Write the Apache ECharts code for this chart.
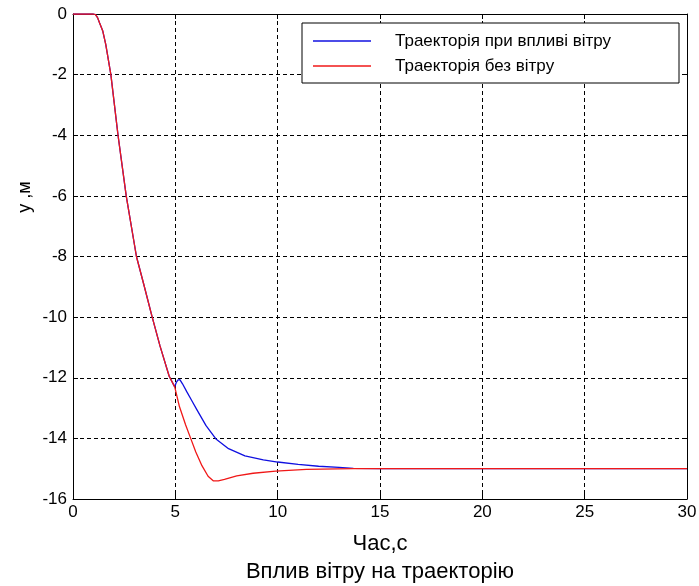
<!DOCTYPE html>
<html>
<head>
<meta charset="utf-8">
<script src="https://cdn.jsdelivr.net/npm/echarts@6/dist/echarts.min.js"></script>
<style>
  html, body { margin: 0; padding: 0; background: #fff; }
  #chart { width: 699px; height: 586px; }
</style>
</head>
<body>
<div id="chart"></div>
<script>
// спільна ділянка (обидві траєкторії збігаються)
var tCommon = [0, 0.5, 1.0, 1.1, 1.2, 1.3, 1.45, 1.6, 1.85, 2.2, 2.6, 3.1, 3.45, 3.85, 4.25, 4.7, 4.97];
var yCommon = [0, 0, 0, -0.02, -0.12, -0.3, -0.55, -1.0, -2.0, -4.0, -6.0, -8.0, -8.9, -9.95, -10.95, -11.95, -12.3];

// траєкторія при впливі вітру
var tWind = [5.05, 5.12, 5.22, 5.35, 5.55, 5.8, 6.05, 6.5, 7.0, 7.6, 8.4, 9.3, 10.0, 11.0, 12.0, 13.0, 13.7, 15, 20, 25, 30];
var yWind = [-12.15, -12.08, -12.06, -12.2, -12.45, -12.75, -13.05, -13.58, -14.03, -14.34, -14.58, -14.71, -14.78, -14.86, -14.92, -14.96, -14.99, -15, -15, -15, -15];

// траєкторія без вітру
var tNoWind = [5.2, 5.5, 5.75, 6.0, 6.3, 6.6, 6.85, 7.1, 7.4, 8.0, 8.8, 9.9, 11.4, 13.7, 15, 20, 25, 30];
var yNoWind = [-12.95, -13.55, -14.0, -14.45, -14.9, -15.25, -15.4, -15.4, -15.35, -15.24, -15.15, -15.08, -15.02, -15, -15, -15, -15, -15];

var seriesNames = ['Траекторія при впливі вітру', 'Траекторія без вітру'];

function pairs(ts, ys) {
    var out = [];
    for (var i = 0; i < ts.length; i++) out.push([ts[i], ys[i]]);
    return out;
}

var windData = pairs(tCommon, yCommon).concat(pairs(tWind, yWind));
var noWindData = pairs(tCommon, yCommon).concat(pairs(tNoWind, yNoWind));

var font = 'Liberation Sans, Arial, sans-serif';
var chart = echarts.init(document.getElementById('chart'));

var option = {
    backgroundColor: '#fff',
    animation: false,
    grid: { left: 73, right: 12, top: 14, bottom: 87, outerBoundsMode: 'none' },
    xAxis: [{
        type: 'value', min: 0, max: 30, interval: 5, position: 'bottom',
        name: 'Час,с', nameLocation: 'middle', nameGap: 34,
        nameTextStyle: { fontFamily: font, fontSize: 22, color: '#000' },
        axisLine: { show: true, onZero: false, lineStyle: { color: '#000', width: 1 } },
        axisTick: { show: true, inside: true, length: 5, lineStyle: { color: '#000' } },
        axisLabel: { fontFamily: font, fontSize: 17, color: '#000', margin: 5 },
        splitLine: { show: true, lineStyle: { color: '#000', type: [4, 3], width: 1 } }
    }, {
        type: 'value', min: 0, max: 30, interval: 5, position: 'top',
        axisLine: { show: true, onZero: false, lineStyle: { color: '#000', width: 1 } },
        axisTick: { show: true, inside: true, length: 5, lineStyle: { color: '#000' } },
        axisLabel: { show: false },
        splitLine: { show: false }
    }],
    yAxis: [{
        type: 'value', min: -16, max: 0, interval: 2, position: 'left',
        axisLine: { show: true, onZero: false, lineStyle: { color: '#000', width: 1 } },
        axisTick: { show: true, inside: true, length: 5, lineStyle: { color: '#000' } },
        axisLabel: { fontFamily: font, fontSize: 17, color: '#000', margin: 6 },
        splitLine: { show: true, lineStyle: { color: '#000', type: [4, 3], width: 1 } }
    }, {
        type: 'value', min: -16, max: 0, interval: 2, position: 'right',
        axisLine: { show: true, onZero: false, lineStyle: { color: '#000', width: 1 } },
        axisTick: { show: true, inside: true, length: 5, lineStyle: { color: '#000' } },
        axisLabel: { show: false },
        splitLine: { show: false }
    }],
    legend: {
        orient: 'vertical',
        left: 302, top: 23,
        data: [{ name: seriesNames[0], icon: 'rect' }, { name: seriesNames[1], icon: 'rect' }],
        backgroundColor: '#fff',
        borderColor: '#000', borderWidth: 1, borderRadius: 0,
        padding: [8, 14, 7, 11],
        itemWidth: 58, itemHeight: 1.5, itemGap: 5,
        textStyle: { fontFamily: font, fontSize: 17, color: '#000', width: 270, lineHeight: 20, padding: [0, 0, 0, 19] }
    },
    graphic: [{
        type: 'text', x: 25, y: 197, rotation: Math.PI / 2,
        style: { text: 'y ,м', font: '18px ' + font, fill: '#000', align: 'center', verticalAlign: 'middle' }
    }, {
        type: 'text', x: 380, y: 572,
        style: { text: 'Вплив вітру на траекторію', font: '22px ' + font, fill: '#000', align: 'center', verticalAlign: 'middle' }
    }],
    series: [{
        name: seriesNames[0], type: 'line', data: windData,
        xAxisIndex: 0, yAxisIndex: 0,
        symbol: 'none', smooth: false,
        lineStyle: { color: '#1010e0', width: 1.3 }, itemStyle: { color: '#1010e0' }
    }, {
        name: seriesNames[1], type: 'line', data: noWindData,
        xAxisIndex: 0, yAxisIndex: 0,
        symbol: 'none', smooth: false,
        lineStyle: { color: '#f01818', width: 1.3 }, itemStyle: { color: '#f01818' }
    }]
};
chart.setOption(option);
</script>
</body>
</html>
